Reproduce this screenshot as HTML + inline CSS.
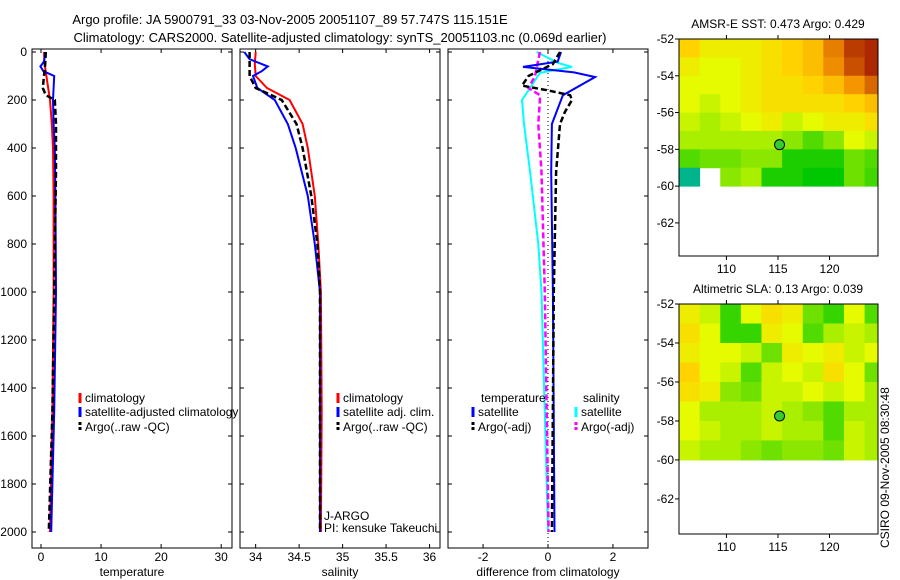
<!DOCTYPE html>
<html><head><meta charset="utf-8"><style>
body{margin:0;background:#fff;}
svg{display:block;font-family:"Liberation Sans",sans-serif;}
</style></head><body>
<svg id="c" width="900" height="580" viewBox="0 0 900 580">
<text x="290" y="24" font-size="13" text-anchor="middle">Argo profile: JA 5900791_33 03-Nov-2005 20051107_89 57.747S 115.151E</text>
<text x="340" y="42" font-size="13" text-anchor="middle">Climatology: CARS2000. Satellite-adjusted climatology: synTS_20051103.nc (0.069d earlier)</text>
<g id="plots"></g>
</svg>
<script>
const depthTicks=[0,200,400,600,800,1000,1200,1400,1600,1800,2000];
const tempTicks=[0,10,20,30];
const salTicks=[34,34.5,35,35.5,36];
const salTickLabels=["34","34.5","35","35.5","36"];
const diffTicks=[-2,0,2];
// temperature profiles [depth, value]
const tClimD=[0,50,100,150,200,300,400,600,1000,1500,2000];
const tClimV=[0.5,0.6,0.9,1.2,1.5,1.8,2.0,2.1,2.1,1.9,1.5];
const tSatD=[0,40,60,80,100,150,200,300,400,600,1000,1500,2000];
const tSatV=[0.7,0.5,-0.1,0.4,2.2,2.1,2.0,2.1,2.3,2.4,2.5,2.2,1.7];
const tArgoD=[0,50,100,150,180,200,300,500,1000,1500,2000];
const tArgoV=[0.8,0.7,0.5,0.3,0.8,2.3,2.5,2.5,2.2,1.9,1.3];
// salinity profiles
const sClimD=[0,50,100,150,200,300,400,600,800,1000,1500,2000];
const sClimV=[34.0,33.99,34.0,34.13,34.39,34.54,34.6,34.68,34.72,34.75,34.76,34.75];
const sSatD=[0,30,60,80,100,150,200,300,400,600,800,1000,2000];
const sSatV=[33.87,33.93,34.14,34.07,33.97,34.02,34.22,34.37,34.46,34.6,34.68,34.74,34.74];
const sArgoD=[0,100,150,200,300,400,600,800,1000,2000];
const sArgoV=[33.93,33.93,34.0,34.3,34.47,34.54,34.64,34.71,34.74,34.74];
// differences from climatology
const dTSatD=[0,40,62,85,104,180,300,500,1000,2000];
const dTSatV=[0.4,0.3,-0.77,0.8,1.45,0.46,0.12,0.1,0.15,0.2];
const dSSatD=[0,45,62,87,150,200,300,500,800,1000,2000];
const dSSatV=[-0.35,0.3,0.74,-0.25,-0.55,-0.8,-0.74,-0.55,-0.3,-0.2,0.0];
const dSArgoD=[0,100,150,180,200,300,500,1000,2000];
const dSArgoV=[-0.25,-0.4,-0.6,-0.25,-0.25,-0.3,-0.2,-0.1,0.02];
const dTArgoD=[0,50,100,140,160,180,200,250,300,500,1000,2000];
const dTArgoV=[0.37,0.15,-0.6,-0.8,0.0,0.68,0.74,0.52,0.37,0.25,0.18,0.12];
// map grids (rows -52..-60 by 1 deg, cols 2 deg from 105.4)
const sstGrid=[
[.55,.45,.45,.45,.5,.55,.6,.75,.9,.95],
[.45,.4,.4,.45,.5,.55,.6,.72,.85,.95],
[.4,.4,.4,.45,.5,.5,.55,.6,.7,.8],
[.4,.35,.4,.45,.5,.5,.5,.5,.55,.6],
[.35,.3,.35,.4,.45,.35,.4,.45,.45,.5],
[.3,.3,.3,.3,.3,.25,.15,.25,.4,.35],
[.15,.2,.2,.25,.25,.05,.05,.05,.2,.15],
[-.1,null,.25,.3,.05,.05,0,0,.2,.12]];
const slaGrid=[
[.45,.35,.1,.4,.5,.45,.2,.1,.4,.15],
[.5,.4,.1,.1,.45,.4,.15,.3,.35,.3],
[.45,.4,.4,.35,.2,.45,.4,.45,.35,.4],
[.55,.4,.35,.15,.35,.4,.35,.5,.4,.2],
[.5,.45,.25,.2,.35,.35,.4,.35,.4,.3],
[.4,.3,.3,.3,.35,.3,.25,.15,.3,.3],
[.4,.35,.3,.3,.35,.3,.3,.15,.35,.3],
[.35,.3,.3,.25,.2,.25,.25,.2,.35,.3]];
const NS='http://www.w3.org/2000/svg';
const root=document.getElementById('plots');
function mk(tag,attrs,parent){const e=document.createElementNS(NS,tag);for(const k in attrs)e.setAttribute(k,attrs[k]);(parent||root).appendChild(e);return e;}
const Y0=52,PXM=0.24;
function yD(d){return Y0+d*PXM;}
function panel(x0,vmin,vmax,ticks,labels,xlab,name){
  const g=mk('g',{});
  
  
  const xs=v=>x0+(v-vmin)/(vmax-vmin)*200;
  mk('rect',{x:x0,y:49,width:200,height:499,fill:'none',stroke:'#000','stroke-width':1},g);
  ticks.forEach((t,i)=>{const x=xs(t);
    mk('line',{x1:x,y1:49,x2:x,y2:53,stroke:'#000'},g);mk('line',{x1:x,y1:548,x2:x,y2:544,stroke:'#000'},g);
    const tl=mk('text',{x:x,y:561,'font-size':12,'text-anchor':'middle'},g);tl.textContent=labels[i];});
  depthTicks.forEach(d=>{const y=yD(d);
    mk('line',{x1:x0,y1:y,x2:x0+4,y2:y,stroke:'#000'},g);mk('line',{x1:x0+200,y1:y,x2:x0+196,y2:y,stroke:'#000'},g);
    if(x0===32){const t=mk('text',{x:27,y:y+4,'font-size':12,'text-anchor':'end'},g);t.textContent=d;}});
  const xl=mk('text',{x:x0+100,y:576,'font-size':12,'text-anchor':'middle'},g);xl.textContent=xlab;
  return {g,xs};
}
function line(p,D,V,color,w,dash,name){
  const pts=D.map((d,i)=>p.xs(V[i]).toFixed(1)+','+yD(d).toFixed(1)).join(' ');
  const e=mk('polyline',{points:pts,fill:'none',stroke:color,'stroke-width':w,'stroke-dasharray':dash||'none'},p.g);
  
  
}
function legend(g,x,y,color,label,dash){
  mk('line',{x1:x,y1:y-9,x2:x,y2:y+1,stroke:color,'stroke-width':3,'stroke-dasharray':dash||'none'},g);
  const t=mk('text',{x:x+5,y:y,'font-size':12},g);t.textContent=label;
  
  
}
const p1=panel(32,-1.5,31.8,tempTicks,tempTicks.map(String),'temperature','temperature-panel');
line(p1,tClimD,tClimV,'#f00',2,null,'temp-climatology');
line(p1,tSatD,tSatV,'#00f',2,null,'temp-satellite');
line(p1,tArgoD,tArgoV,'#000',2.5,'6,3','temp-argo');
legend(p1.g,80,402,'#f00','climatology');legend(p1.g,80,416,'#00f','satellite-adjusted climatology');legend(p1.g,80,431,'#000','Argo(..raw -QC)','3,2');
const p2=panel(240,33.82,36.12,salTicks,salTickLabels,'salinity','salinity-panel');
line(p2,sClimD,sClimV,'#f00',2,null,'sal-climatology');
line(p2,sSatD,sSatV,'#00f',2,null,'sal-satellite');
line(p2,sArgoD,sArgoV,'#000',2.5,'6,3','sal-argo');
legend(p2.g,338,402,'#f00','climatology');legend(p2.g,338,416,'#00f','satellite adj. clim.');legend(p2.g,338,431,'#000','Argo(..raw -QC)','3,2');
let t=mk('text',{x:324,y:520,'font-size':12},p2.g);t.textContent='J-ARGO';
t=mk('text',{x:324,y:532,'font-size':12},p2.g);t.textContent='PI: kensuke Takeuchi';
const p3=panel(448,-3.08,3.08,diffTicks,diffTicks.map(String),'difference from climatology','difference-panel');
mk('line',{x1:p3.xs(0),y1:49,x2:p3.xs(0),y2:548,stroke:'#000','stroke-dasharray':'1,3'},p3.g);
line(p3,dSSatD,dSSatV,'#0ff',2,null,'diff-sal-satellite');
line(p3,dSArgoD,dSArgoV,'#f0f',2.5,'6,3','diff-sal-argo');
line(p3,dTSatD,dTSatV,'#00f',2,null,'diff-temp-satellite');
line(p3,dTArgoD,dTArgoV,'#000',2.5,'6,3','diff-temp-argo');
t=mk('text',{x:481,y:402,'font-size':12},p3.g);t.textContent='temperature';
t=mk('text',{x:583,y:402,'font-size':12},p3.g);t.textContent='salinity';
legend(p3.g,473,416,'#00f','satellite');legend(p3.g,473,431,'#000','Argo(-adj)','3,2');
legend(p3.g,576,416,'#0ff','satellite');legend(p3.g,576,431,'#f0f','Argo(-adj)','3,2');
// maps
function col(v){
  if(v<0)return 'rgb(0,180,140)';
  const stops=[[0,[0,200,0]],[.2,[110,225,0]],[.4,[230,250,0]],[.55,[255,210,0]],[.7,[245,150,0]],[.85,[200,80,0]],[1,[160,20,0]]];
  for(let i=1;i<stops.length;i++){if(v<=stops[i][0]){const[a,ca]=stops[i-1],[b,cb]=stops[i];const f=(v-a)/(b-a);
    return 'rgb('+ca.map((c,j)=>Math.round(c+(cb[j]-c)*f)).join(',')+')';}}
  return 'rgb(160,20,0)';
}
function map(yTop,yBot,grid,title,name){
  const g=mk('g',{});
  
  
  const X0=679,X1=878,L0=105.4,L1=124.7;
  const xl=v=>X0+(v-L0)/(L1-L0)*(X1-X0);
  const yl=v=>yTop+(-52-v)/(11.8)*(yBot-yTop);
  grid.forEach((row,r)=>row.forEach((v,c)=>{if(v===null)return;
    const x=xl(L0+c*2),w=xl(Math.min(L0+c*2+2,L1))-x;
    const y=yl(-52-r),h=yl(-53-r)-y;
    mk('rect',{x:x,y:y,width:w+0.5,height:h+0.5,fill:col(v)},g);}));
  mk('rect',{x:X0,y:yTop,width:X1-X0,height:yBot-yTop,fill:'none',stroke:'#000'},g);
  [-52,-54,-56,-58,-60,-62].forEach(v=>{const y=yl(v);mk('line',{x1:X0,y1:y,x2:X0-4,y2:y,stroke:'#000'},g);
    const tt=mk('text',{x:X0-5,y:y+4,'font-size':12,'text-anchor':'end'},g);tt.textContent=v;});
  [110,115,120].forEach(v=>{const x=xl(v);mk('line',{x1:x,y1:yBot,x2:x,y2:yBot+4,stroke:'#000'},g);mk('line',{x1:x,y1:yTop,x2:x,y2:yTop-4,stroke:'#000'},g);
    const tt=mk('text',{x:x,y:yBot+17,'font-size':12,'text-anchor':'middle'},g);tt.textContent=v;});
  mk('circle',{cx:xl(115.151),cy:yl(-57.747),r:5,fill:'#3c3',stroke:'#000'},g);
  const tt=mk('text',{x:778,y:yTop-11,'font-size':12,'text-anchor':'middle'},g);tt.textContent=title;
}
map(39,256,sstGrid,'AMSR-E SST: 0.473 Argo: 0.429','sst-map');
map(304,534,slaGrid,'Altimetric SLA: 0.13 Argo: 0.039','sla-map');
t=mk('text',{x:0,y:0,'font-size':12,transform:'translate(889,548) rotate(-90)'});t.textContent='CSIRO 09-Nov-2005 08:30:48';


</script>
</body></html>
